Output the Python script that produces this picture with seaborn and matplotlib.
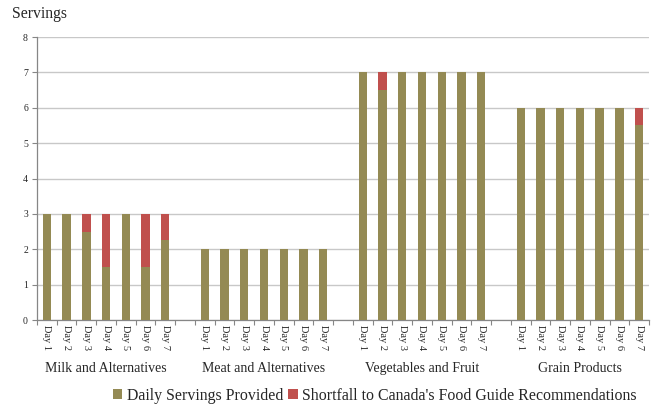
import matplotlib
matplotlib.use("Agg")
import matplotlib.pyplot as plt
import seaborn as sns
import pandas as pd
import numpy as np
from matplotlib.patches import Patch

groups = ["Milk and Alternatives", "Meat and Alternatives", "Vegetables and Fruit", "Grain Products"]
days = ["Day 1", "Day 2", "Day 3", "Day 4", "Day 5", "Day 6", "Day 7"]

milk_provided = [3, 3, 2.5, 1.5, 3, 1.5, 2.25]
milk_shortfall = [0, 0, 0.5, 1.5, 0, 1.5, 0.75]
meat_provided = [2, 2, 2, 2, 2, 2, 2]
meat_shortfall = [0, 0, 0, 0, 0, 0, 0]
veg_provided = [7, 6.5, 7, 7, 7, 7, 7]
veg_shortfall = [0, 0.5, 0, 0, 0, 0, 0]
grain_provided = [6, 6, 6, 6, 6, 6, 5.5]
grain_shortfall = [0, 0, 0, 0, 0, 0, 0.5]

provided = [milk_provided, meat_provided, veg_provided, grain_provided]
shortfall = [milk_shortfall, meat_shortfall, veg_shortfall, grain_shortfall]

OLIVE = "#948A54"
RED = "#C0504D"

rows = []
for gi, g in enumerate(groups):
    for di, d in enumerate(days):
        pos = gi * 8 + di
        rows.append({"pos": pos, "group": g, "day": d,
                     "provided": provided[gi][di],
                     "total": provided[gi][di] + shortfall[gi][di]})
df = pd.DataFrame(rows)

sns.set_theme(style="white")
plt.rcParams["font.family"] = ["Liberation Serif", "DejaVu Serif"]

fig = plt.figure(figsize=(6.56, 4.04), dpi=100)
ax = fig.add_axes([37 / 656, 1 - 320 / 404, 612 / 656, 283 / 404])

# red bars for the full recommendation, olive bars for what was provided on top
sns.barplot(data=df, x="pos", y="total", native_scale=True, color=RED,
            saturation=1, width=0.42, ax=ax, errorbar=None, linewidth=0, zorder=2)
sns.barplot(data=df, x="pos", y="provided", native_scale=True, color=OLIVE,
            saturation=1, width=0.42, ax=ax, errorbar=None, linewidth=0, zorder=3)

ax.set_xlim(-0.5, 30.5)
ax.set_ylim(0, 8)
ax.set_yticks(range(0, 9))
ax.yaxis.grid(True, color="#C8C8C8", linewidth=1, zorder=0)
ax.set_axisbelow(True)
ax.tick_params(axis="y", labelsize=7, length=3.5, width=0.8, color="#868686",
               left=True, pad=3)

ax.set_xticks(np.arange(-0.5, 31, 1))
ax.set_xticklabels([])
ax.tick_params(axis="x", which="major", length=3.5, width=0.8, color="#868686",
               bottom=True, direction="out")
ax.set_xlabel("")
ax.set_ylabel("")

for side in ["top", "right"]:
    ax.spines[side].set_visible(False)
for side in ["left", "bottom"]:
    ax.spines[side].set_color("#868686")
    ax.spines[side].set_linewidth(0.9)

# day labels and group labels beneath the axis
for _, r in df.iterrows():
    ax.text(r["pos"], -0.15, r["day"], rotation=-90, ha="center", va="top",
            fontsize=7.5, transform=ax.transData, clip_on=False)
for gi, g in enumerate(groups):
    ax.text(gi * 8 + 3, -1.38, g, ha="center", va="center", fontsize=10,
            clip_on=False)

fig.text(12 / 656, 1 - 14 / 404, "Servings", fontsize=11.3, ha="left", va="center")

handles = [Patch(facecolor=OLIVE, edgecolor="none"),
           Patch(facecolor=RED, edgecolor="none")]
fig.legend(handles, ["Daily Servings Provided", "Shortfall to Canada's Food Guide Recommendations"],
           loc="center", bbox_to_anchor=(375 / 656, 1 - 396 / 404), ncol=2, frameon=False,
           fontsize=11.4, handlelength=0.6, handleheight=0.6, handletextpad=0.3,
           columnspacing=0.3)

fig.savefig("out.png", dpi=100)
